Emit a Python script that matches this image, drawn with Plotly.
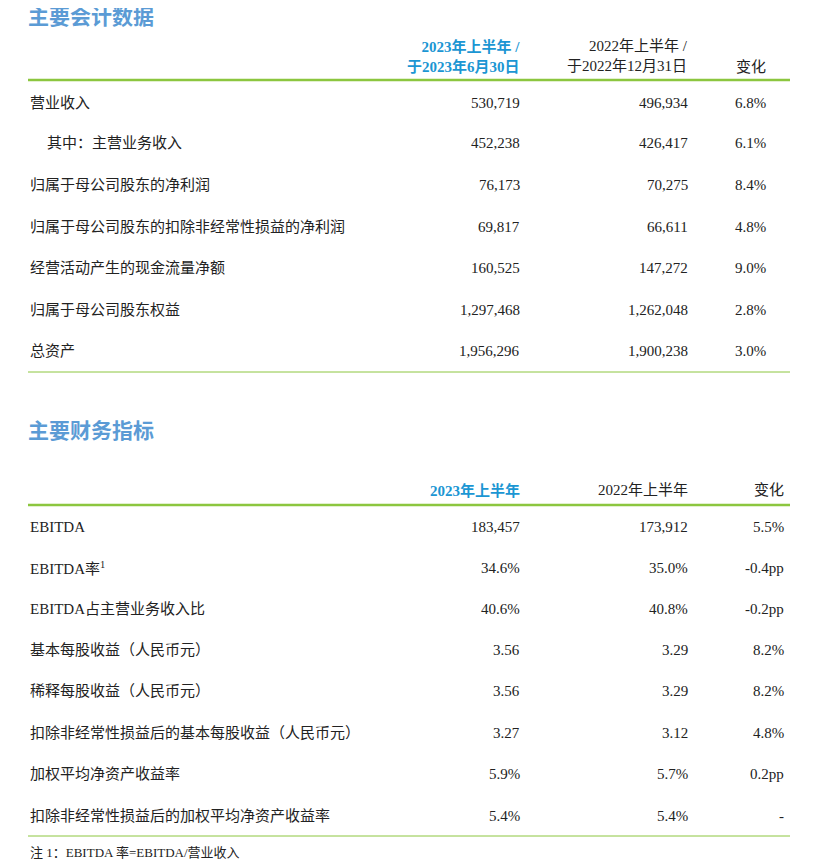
import plotly.graph_objects as go

title1 = "主要会计数据"
head1 = ["2023年上半年 /<br>于2023年6月30日", "2022年上半年 /<br>于2022年12月31日", "变化"]
labels1 = ["营业收入", "其中：主营业务收入", "归属于母公司股东的净利润", "归属于母公司股东的扣除非经常性损益的净利润",
           "经营活动产生的现金流量净额", "归属于母公司股东权益", "总资产"]
v2023_1 = ["530,719", "452,238", "76,173", "69,817", "160,525", "1,297,468", "1,956,296"]
v2022_1 = ["496,934", "426,417", "70,275", "66,611", "147,272", "1,262,048", "1,900,238"]
chg1 = ["6.8%", "6.1%", "8.4%", "4.8%", "9.0%", "2.8%", "3.0%"]

title2 = "主要财务指标"
head2 = ["2023年上半年", "2022年上半年", "变化"]
labels2 = ["EBITDA", "EBITDA率<sup>1</sup>", "EBITDA占主营业务收入比", "基本每股收益（人民币元）", "稀释每股收益（人民币元）",
           "扣除非经常性损益后的基本每股收益（人民币元）", "加权平均净资产收益率", "扣除非经常性损益后的加权平均净资产收益率"]
v2023_2 = ["183,457", "34.6%", "40.6%", "3.56", "3.56", "3.27", "5.9%", "5.4%"]
v2022_2 = ["173,912", "35.0%", "40.8%", "3.29", "3.29", "3.12", "5.7%", "5.4%"]
chg2 = ["5.5%", "-0.4pp", "-0.2pp", "8.2%", "8.2%", "4.8%", "0.2pp", "-"]
footnote = "注 1：EBITDA 率=EBITDA/营业收入"

FONT = "Liberation Serif, Noto Sans CJK SC"
TXT = "#222222"
BLUE = "#1b96d3"
TBLUE = "#5b9bd5"
GREEN = "#8cc63f"
XL, X1, X2, X3, XR = 28, 522, 690, 768, 790

anns, shapes = [], []
def txt(x, y, s, anchor="left", color=TXT, size=15, bold=False):
    if bold:
        s = "<b>" + s + "</b>"
    anns.append(dict(x=x, y=y, text=s, xanchor=anchor, yanchor="middle", showarrow=False,
                     font=dict(family=FONT, size=size, color=color), align="right" if anchor == "right" else "left"))
def line(y, w):
    shapes.append(dict(type="line", x0=XL, x1=XR, y0=y, y1=y, line=dict(color=GREEN, width=w)))

txt(XL - 2, 17, title1, color=TBLUE, size=21, bold=True)
txt(X1, 56, head1[0], "right", BLUE, bold=True)
txt(X2, 56, head1[1], "right")
txt(X3, 67, head1[2], "right")
line(80, 2.5)
ys1 = [103, 143, 185, 227, 268, 310, 351]
for i, y in enumerate(ys1):
    txt(XL + (17 if i == 1 else 0), y, labels1[i])
    txt(X1, y, v2023_1[i], "right")
    txt(X2, y, v2022_1[i], "right")
    txt(X3, y, chg1[i], "right")
line(372, 1)

txt(XL - 2, 431, title2, color=TBLUE, size=21, bold=True)
txt(X1, 490, head2[0], "right", BLUE, bold=True)
txt(X2, 490, head2[1], "right")
txt(X3 + 18, 490, head2[2], "right")
line(505, 2.5)
ys2 = [527, 568, 609, 650, 691, 733, 774, 816]
for i, y in enumerate(ys2):
    txt(XL, y, labels2[i])
    txt(X1, y, v2023_2[i], "right")
    txt(X2, y, v2022_2[i], "right")
    txt(X3 + 18, y, chg2[i], "right")
line(836, 1)
txt(XL, 852, footnote, size=13)

fig = go.Figure()
fig.update_layout(width=831, height=864, margin=dict(l=0, r=0, t=0, b=0),
                  paper_bgcolor="white", plot_bgcolor="white",
                  xaxis=dict(range=[8, 839], visible=False, fixedrange=True),
                  yaxis=dict(range=[872, 8], visible=False, fixedrange=True),
                  annotations=anns, shapes=shapes, showlegend=False)
fig.write_html("out.html")
